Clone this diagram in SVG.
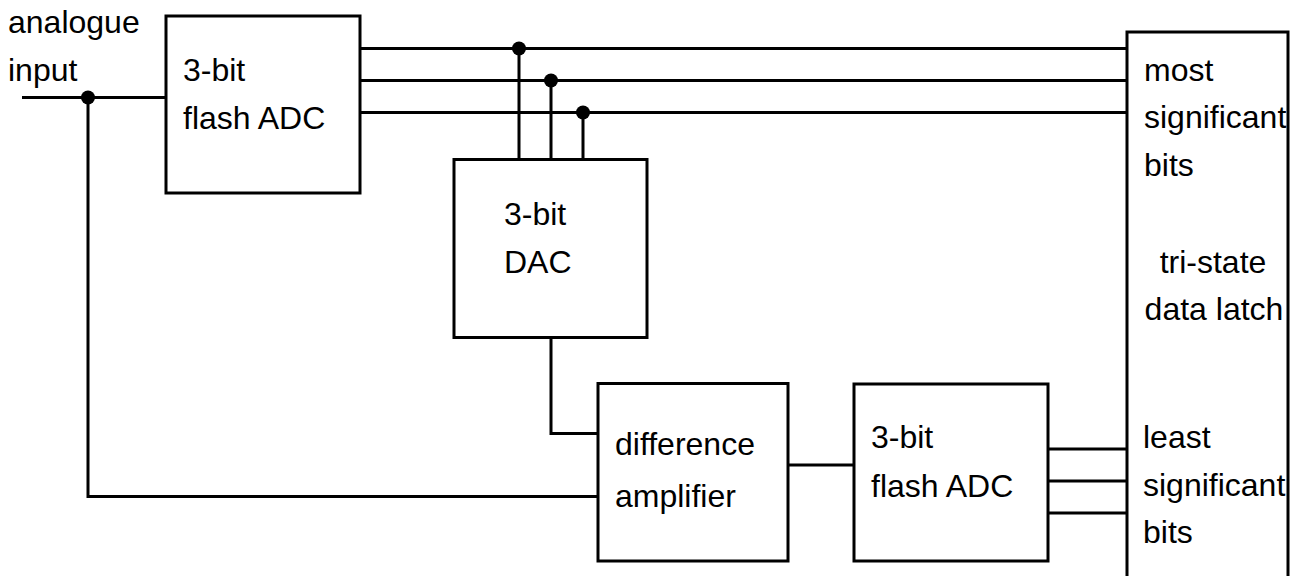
<svg xmlns="http://www.w3.org/2000/svg" width="1298" height="576" viewBox="0 0 1298 576">
<style>
.box{fill:#fff;stroke:#000;stroke-width:3}
.w{fill:none;stroke:#000;stroke-width:3}
.dot{fill:#000}
text{font-family:"Liberation Sans",Arial,sans-serif;font-size:32px;fill:#000}
</style>
<rect width="1298" height="576" fill="#fff"/>
<g id="connectors">
<path class="w" d="M22 97.5H166"/>
<path class="w" d="M88 97.5V496.5H598"/>
<path class="w" d="M360 48.5H1127M360 80.5H1127M360 112.5H1127"/>
<path class="w" d="M519 48.5V159.5M551 80.5V159.5M583 112.5V159.5"/>
<path class="w" d="M551 337.5V433.5H598"/>
<path class="w" d="M788 465H854"/>
<path class="w" d="M1048 449H1127M1048 481H1127M1048 513H1127"/>
<circle class="dot" cx="88" cy="97.5" r="7"/>
<circle class="dot" cx="519" cy="48.5" r="7"/>
<circle class="dot" cx="551" cy="80.5" r="7"/>
<circle class="dot" cx="583" cy="112.5" r="7"/>
</g>
<g id="input-label">
<text x="8" y="33">analogue</text>
<text x="8" y="81">input</text>
</g>
<g id="adc1">
<rect class="box" x="166" y="16" width="194" height="177"/>
<text x="183" y="81">3-bit</text>
<text x="183" y="129">flash ADC</text>
</g>
<g id="dac">
<rect class="box" x="454" y="159.5" width="193" height="178"/>
<text x="504" y="225">3-bit</text>
<text x="504" y="273">DAC</text>
</g>
<g id="diffamp">
<rect class="box" x="598" y="383.5" width="190" height="177.5"/>
<text x="615" y="455">difference</text>
<text x="615" y="507">amplifier</text>
</g>
<g id="adc2">
<rect class="box" x="854" y="384" width="194" height="177"/>
<text x="871" y="448">3-bit</text>
<text x="871" y="497">flash ADC</text>
</g>
<g id="latch">
<rect class="box" x="1127" y="32" width="161" height="600"/>
<text x="1144" y="81">most</text>
<text x="1144" y="128">significant</text>
<text x="1144" y="176">bits</text>
<text x="1213" y="273" text-anchor="middle">tri-state</text>
<text x="1214" y="320" text-anchor="middle">data latch</text>
<text x="1143" y="448">least</text>
<text x="1143" y="496">significant</text>
<text x="1143" y="543">bits</text>
</g>
</svg>
